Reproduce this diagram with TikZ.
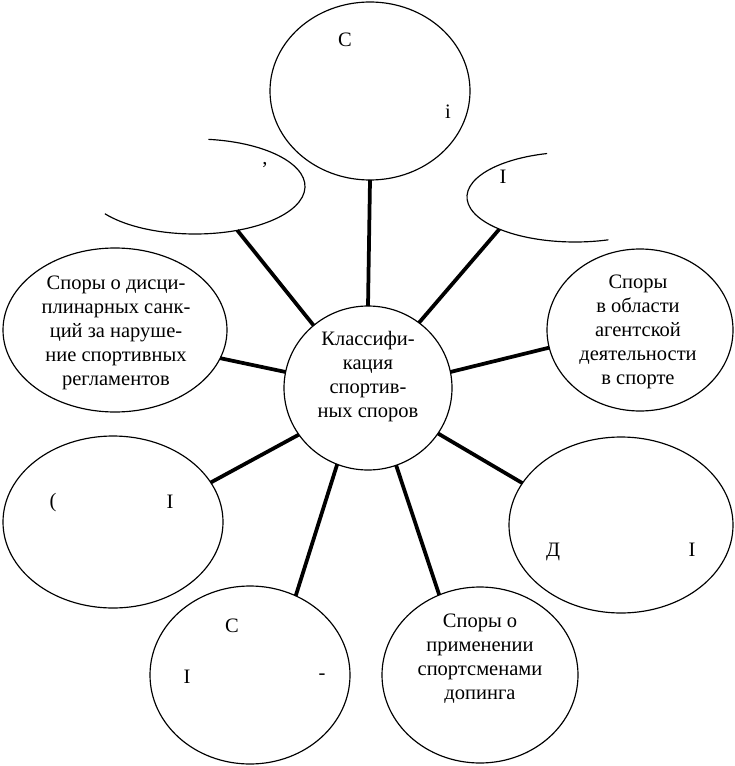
\documentclass[tikz,border=0pt]{standalone}
\usepackage{fontspec}
\setmainfont{Liberation Serif}
\usetikzlibrary{shapes.geometric}
\usetikzlibrary{calc}
\begin{document}
\begin{tikzpicture}[
        x=0.03cm,y=-0.03cm,
        bubble/.style 2 args={draw=black,line width=1pt,ellipse,
                              inner sep=0pt,outer sep=0pt,
                              minimum width=#1*0.03cm,minimum height=#2*0.03cm},
        ghost/.style 2 args={bubble={#1}{#2},draw=none},
        link/.style={line width=3.2pt,draw=black},
        txt/.style={align=center,inner sep=0pt,font=\fontsize{17.5}{20.5}\selectfont},
        frag/.style={inner sep=0pt,font=\fontsize{17.5}{20.5}\selectfont},
      ]
      \useasboundingbox[fill=white] (0,0) rectangle (734,766);
      % Hub
      \node[bubble={168}{164}] (hub) at (368,388) {};
      % Outer ellipses
      \node[bubble={200}{178}] (top) at (370,91) {};
      \node[bubble={224}{164}] (lt) at (115,330) {};
      \node[bubble={186}{162}] (rt) at (640,330) {};
      \node[bubble={220}{172}] (ll) at (113,522) {};
      \node[bubble={224}{176}] (lr) at (621,525) {};
      \node[bubble={200}{178}] (bl) at (250,675) {};
      \node[bubble={196}{176}] (br) at (480,675) {};
      % Open ones, only partly drawn
      \node[ghost={220}{95}] (ul) at (195,186.5) {};
      \node[ghost={216}{90}] (ur) at (575,197) {};
      \draw[line width=1pt] ($(ul.center)+(83:3.3cm and 1.425cm)$)
        arc[start angle=83,end angle=-145,x radius=3.3cm,y radius=1.425cm];
      \draw[line width=1pt] ($(ur.center)+(105:3.24cm and 1.35cm)$)
        arc[start angle=105,end angle=288,x radius=3.24cm,y radius=1.35cm];
      % Spokes
      \foreach \n/\a/\b in {top/90/270,ul/131/314,ur/52/203,lt/169/345,rt/11/191,
                            ll/214/22,lr/327/157,bl/248/60,br/290/117}{
        \draw[link] (hub.\a) -- (\n.\b);
      }
      % Texts
      \node[txt] (hubt) at (368,377) {Классифи-\\кация\\спортив-\\ных споров};
      \node[txt] (ltt) at (116,333) {Споры о дисци-\\плинарных санк-\\ций за наруше-\\ние спортивных\\регламентов};
      \node[txt] (rtt) at (638,332) {Споры\\в области\\агентской\\деятельности\\в спорте};
      \node[txt] (brt) at (480,659) {Споры о\\применении\\спортсменами\\допинга};
      % What is left of the other labels
      \node[frag] (topa) at (345,40) {С};
      \node[frag] (topb) at (448,112) {і};
      \node[frag] (lla) at (53,503) {(};
      \node[frag] (llb) at (170,502) {І};
      \node[frag] (bla) at (232,626) {С};
      \node[frag] (blb) at (187,677) {І};
      \node[frag] (blc) at (322,677) {-};
      \node[frag] (lra) at (553,552) {Д};
      \node[frag] (lrb) at (692,550) {І};
      \node[frag] (ura) at (503,177) {І};
      \node[frag] (ula) at (265,165) {,};
    \end{tikzpicture}
\end{document}
